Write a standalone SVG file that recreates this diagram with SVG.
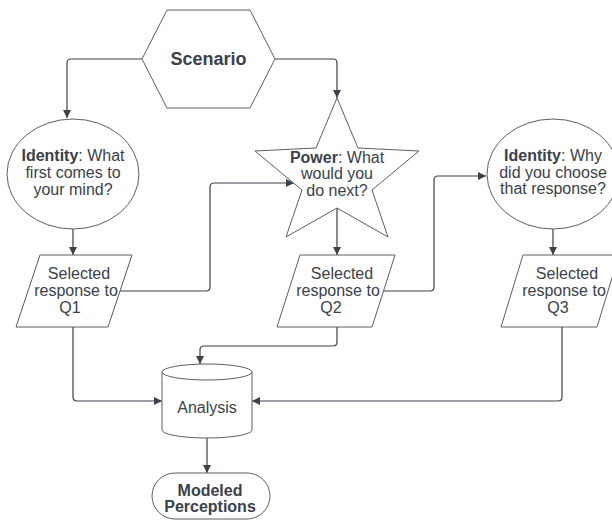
<svg xmlns="http://www.w3.org/2000/svg" width="612" height="520" viewBox="0 0 612 520">
<style>
.shape{fill:#ffffff;stroke:#5e5e5e;stroke-width:1;stroke-linejoin:round}
.conn{fill:none;stroke:#3a414a;stroke-width:1.2}
text{font-family:"Liberation Sans",Arial,sans-serif;font-size:16px;fill:#3a414a;text-anchor:middle}
.b{font-weight:bold}
</style>
<defs>
<marker id="arr" viewBox="0 0 10 10" refX="10" refY="5" markerWidth="8" markerHeight="8" markerUnits="userSpaceOnUse" orient="auto">
<path d="M0,0 L10,5 L0,10 z" fill="#3a414a"/>
</marker>
</defs>
<rect width="612" height="520" fill="#ffffff"/>
<g id="connectors">
<path class="conn" marker-end="url(#arr)" d="M142,59 L71,59 Q67,59 67,63 L67,118"/>
<path class="conn" marker-end="url(#arr)" d="M275,59 L333,59 Q337,59 337,63 L337,98"/>
<path class="conn" marker-end="url(#arr)" d="M73,229 L73,255"/>
<path class="conn" marker-end="url(#arr)" d="M337,208 L337,255"/>
<path class="conn" marker-end="url(#arr)" d="M553,229 L553,255"/>
<path class="conn" marker-end="url(#arr)" d="M120,291 L206,291 Q210,291 210,287 L210,187 Q210,183 214,183 L294,183"/>
<path class="conn" marker-end="url(#arr)" d="M383.5,291 L430,291 Q434,291 434,287 L434,180 Q434,176 438,176 L486,176"/>
<path class="conn" marker-end="url(#arr)" d="M73,327 L73,397 Q73,401 77,401 L162,401"/>
<path class="conn" marker-end="url(#arr)" d="M337,327 L337,342 Q337,346 333,346 L204,346 Q200,346 200,350 L200,364"/>
<path class="conn" marker-end="url(#arr)" d="M562,327 L562,397 Q562,401 558,401 L252,401"/>
<path class="conn" marker-end="url(#arr)" d="M207,438 L207,473"/>
</g>
<g id="scenario">
<polygon class="shape" points="142,59 167,10 250,10 275,59 250,108 167,108"/>
<text class="b" x="208.5" y="64.5" style="font-size:18px">Scenario</text>
</g>
<g id="identity1">
<ellipse class="shape" cx="73" cy="174" rx="66" ry="55"/>
<text x="73" y="161"><tspan class="b">Identity</tspan>: What</text>
<text x="73" y="178">first comes to</text>
<text x="73" y="195">your mind?</text>
</g>
<g id="power">
<polygon class="shape" points="337,98 358,148 419,151 372,190 388,237 337,208 286,237 302,190 255,151 316,148"/>
<text x="337" y="162.5"><tspan class="b">Power</tspan>: What</text>
<text x="337" y="179">would you</text>
<text x="337" y="195.5">do next?</text>
</g>
<g id="identity2">
<ellipse class="shape" cx="553" cy="174" rx="66" ry="55"/>
<text x="553" y="161"><tspan class="b">Identity</tspan>: Why</text>
<text x="553" y="177.5">did you choose</text>
<text x="553" y="194">that response?</text>
</g>
<g id="q1">
<polygon class="shape" points="40,255 132,255 108,327 16,327"/>
<text x="79" y="279">Selected</text>
<text x="76" y="296">response to</text>
<text x="70" y="313">Q1</text>
</g>
<g id="q2">
<polygon class="shape" points="300,255 395,255 372,327 277,327"/>
<text x="342" y="279">Selected</text>
<text x="338" y="296">response to</text>
<text x="331" y="313">Q2</text>
</g>
<g id="q3">
<polygon class="shape" points="523,255 619,255 597,327 501,327"/>
<text x="567" y="279">Selected</text>
<text x="564" y="296">response to</text>
<text x="558" y="313">Q3</text>
</g>
<g id="analysis">
<path class="shape" d="M162,372 A45,8 0 0 1 252,372 L252,430 A45,8 0 0 1 162,430 Z"/>
<path class="shape" fill="none" d="M162,372 A45,8 0 0 0 252,372"/>
<text x="207" y="413">Analysis</text>
</g>
<g id="modeled">
<rect class="shape" x="152" y="473" width="118" height="46" rx="23"/>
<text class="b" x="210" y="495.5">Modeled</text>
<text class="b" x="210" y="511.5">Perceptions</text>
</g>
</svg>
